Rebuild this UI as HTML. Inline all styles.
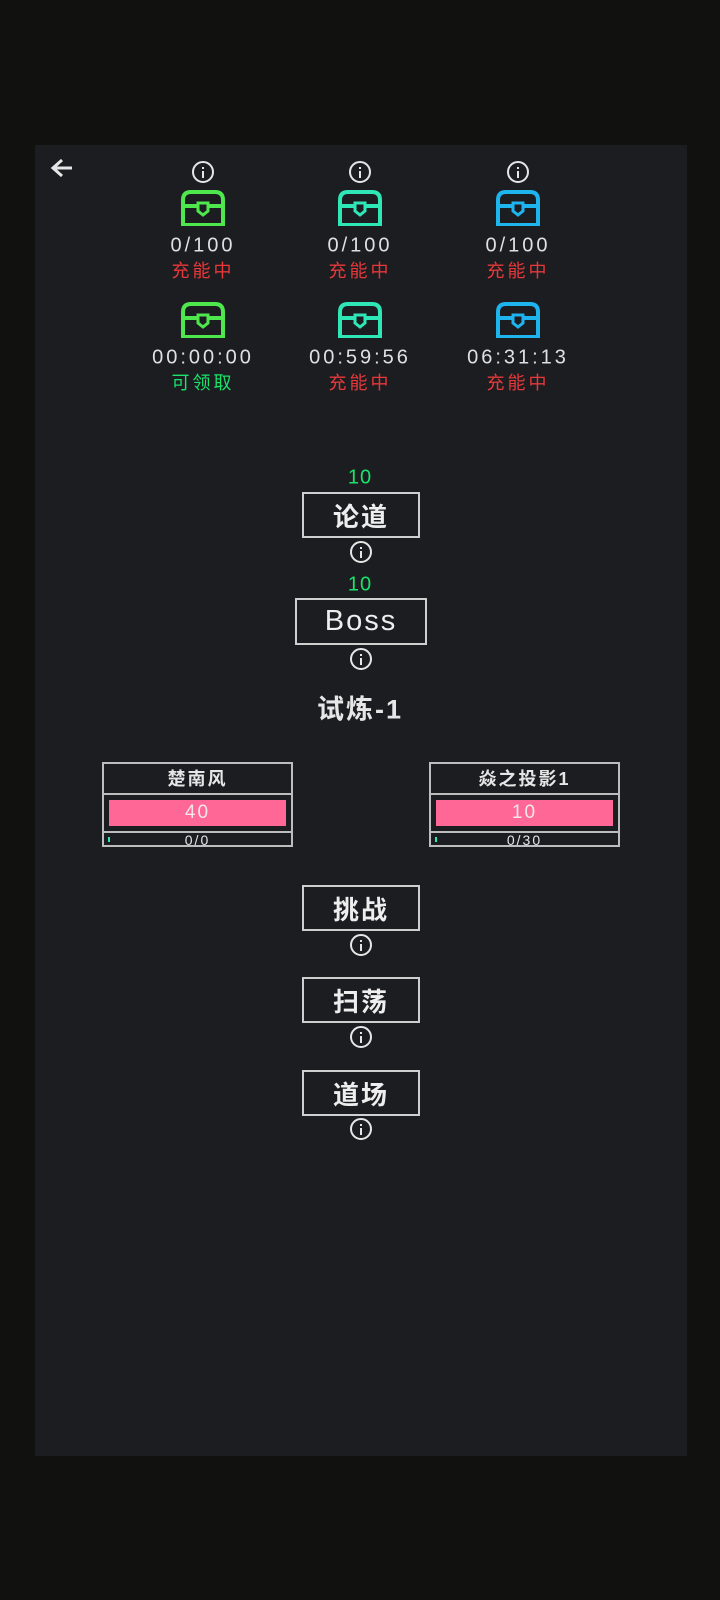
<!DOCTYPE html>
<html><head><meta charset="utf-8"><style>
*{margin:0;padding:0;box-sizing:border-box}
body{width:720px;height:1600px;background:#11120f;position:relative;overflow:hidden;font-family:"Liberation Sans","Noto Sans CJK SC",sans-serif;color:#e6e6e6}
#p{position:absolute;left:35px;top:145px;width:652px;height:1311px;background:#1c1d21}
.a{position:absolute;text-align:center;white-space:nowrap}
.c{transform:translate(-50%,-50%)}
.info{position:absolute;width:22px;height:22px;border:2px solid #e6e6e6;border-radius:50%;transform:translate(-50%,-50%)}
.info:before{content:"";position:absolute;left:8px;top:4px;width:2px;height:2px;background:#e6e6e6}
.info:after{content:"";position:absolute;left:8px;top:8px;width:2px;height:7px;background:#e6e6e6}
.num{font-size:20px;letter-spacing:3px;color:#e0e0e0}
.red{font-size:18px;letter-spacing:3px;color:#e8383a}
.btn{position:absolute;border:2px solid #cfcfcf;font-size:26px;display:flex;align-items:center;justify-content:center;letter-spacing:2px;color:#eee}
.card{position:absolute;width:191px;height:85px;border:2px solid #bdbdbd}
.card .n{height:31px;border-bottom:2px solid #bdbdbd;font-size:18px;text-align:center;line-height:31px;letter-spacing:2px;font-weight:bold}
.card .b{height:38px;border-bottom:2px solid #bdbdbd;padding:5px 5px}
.card .b div{background:#ff6896;height:26px;text-align:center;font-size:19px;line-height:26px;letter-spacing:2px;color:#f4e6ea}
.card .s{font-size:14px;text-align:center;line-height:14px;letter-spacing:2px;position:relative}
.card .s:before{content:"";position:absolute;left:4px;top:4px;width:2px;height:5px;background:#2ee6b6}
</style></head><body>
<div id="p"></div>
<svg style="position:absolute;left:50px;top:157px" width="24" height="22" viewBox="0 0 24 22"><path d="M22 11H4M12 3L3 11L12 19" stroke="#e6e6e6" stroke-width="3" fill="none"/></svg>

<div class="info" style="left:203px;top:172px"></div>
<div class="info" style="left:360px;top:172px"></div>
<div class="info" style="left:518px;top:172px"></div>

<svg width="0" height="0" style="position:absolute"><defs><symbol id="ch" viewBox="0 0 44 36"><path d="M2 35V10Q2 2 10 2H34Q42 2 42 10V35Z M2 16H17 M27 16H42" stroke="currentColor" stroke-width="4" fill="none"/><path d="M17 13H27V21L22 25L17 21Z" stroke="currentColor" stroke-width="3" fill="none"/></symbol></defs></svg>
<svg style="position:absolute;left:181px;top:190px;color:#4ee84e" width="44" height="36"><use href="#ch"/></svg>
<svg style="position:absolute;left:338px;top:190px;color:#2ee6b6" width="44" height="36"><use href="#ch"/></svg>
<svg style="position:absolute;left:496px;top:190px;color:#1eb4ee" width="44" height="36"><use href="#ch"/></svg>
<svg style="position:absolute;left:181px;top:302px;color:#4ee84e" width="44" height="36"><use href="#ch"/></svg>
<svg style="position:absolute;left:338px;top:302px;color:#2ee6b6" width="44" height="36"><use href="#ch"/></svg>
<svg style="position:absolute;left:496px;top:302px;color:#1eb4ee" width="44" height="36"><use href="#ch"/></svg>

<div class="a c num" style="left:203px;top:246px">0/100</div>
<div class="a c num" style="left:360px;top:246px">0/100</div>
<div class="a c num" style="left:518px;top:246px">0/100</div>
<div class="a c red" style="left:203px;top:270px">充能中</div>
<div class="a c red" style="left:360px;top:270px">充能中</div>
<div class="a c red" style="left:518px;top:270px">充能中</div>
<div class="a c num" style="left:203px;top:358px">00:00:00</div>
<div class="a c num" style="left:360px;top:358px">00:59:56</div>
<div class="a c num" style="left:518px;top:358px">06:31:13</div>
<div class="a c red" style="left:203px;top:382px;color:#19e36a">可领取</div>
<div class="a c red" style="left:360px;top:382px">充能中</div>
<div class="a c red" style="left:518px;top:382px">充能中</div>

<div class="a c" style="left:360px;top:478px;font-size:20px;color:#19e36a;letter-spacing:1px">10</div>
<div class="btn" style="left:302px;top:492px;width:118px;height:46px;font-weight:bold">论道</div>
<div class="info" style="left:361px;top:552px"></div>
<div class="a c" style="left:360px;top:585px;font-size:20px;color:#19e36a;letter-spacing:1px">10</div>
<div class="btn" style="left:295px;top:598px;width:132px;height:47px;font-size:29px">Boss</div>
<div class="info" style="left:361px;top:659px"></div>
<div class="a c" style="left:360px;top:707px;font-size:27px;letter-spacing:2px;font-weight:bold">试炼-1</div>

<div class="card" style="left:102px;top:762px"><div class="n">楚南风</div><div class="b"><div>40</div></div><div class="s">0/0</div></div>
<div class="card" style="left:429px;top:762px"><div class="n">焱之投影1</div><div class="b"><div>10</div></div><div class="s">0/30</div></div>

<div class="btn" style="left:302px;top:885px;width:118px;height:46px;font-weight:bold">挑战</div>
<div class="info" style="left:361px;top:945px"></div>
<div class="btn" style="left:302px;top:977px;width:118px;height:46px;font-weight:bold">扫荡</div>
<div class="info" style="left:361px;top:1037px"></div>
<div class="btn" style="left:302px;top:1070px;width:118px;height:46px;font-weight:bold">道场</div>
<div class="info" style="left:361px;top:1129px"></div>
</body></html>
